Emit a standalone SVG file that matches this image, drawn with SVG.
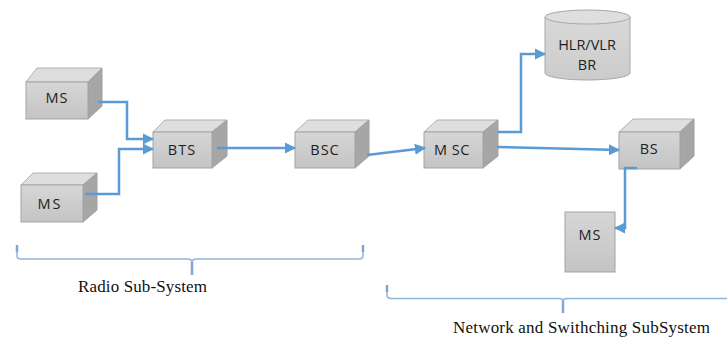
<svg xmlns="http://www.w3.org/2000/svg" width="727" height="337" viewBox="0 0 727 337">
<defs>
<linearGradient id="gf" x1="0" y1="0" x2="0" y2="1"><stop offset="0" stop-color="#d6d6d6"/><stop offset="1" stop-color="#c4c4c4"/></linearGradient>
<linearGradient id="gc" x1="0" y1="0" x2="0" y2="1"><stop offset="0" stop-color="#d9d9d9"/><stop offset="1" stop-color="#cbcbcb"/></linearGradient>
<marker id="ar" viewBox="0 0 10 10" refX="9" refY="5" markerWidth="4.5" markerHeight="4.5" orient="auto" markerUnits="strokeWidth"><path d="M0,0 L10,5 L0,10 z" fill="#5b9bd5"/></marker>
</defs>
<style>
.front{fill:url(#gf);stroke:#a3a3a3;stroke-width:1}
.top{fill:#dedede;stroke:#b0b0b0;stroke-width:1}
.side{fill:#a6a6a6;stroke:#a0a0a0;stroke-width:1}
.lbl{font-family:"Open Sans","Liberation Sans",sans-serif;font-size:14.5px;fill:#1e1e1e;text-anchor:middle}
.con{fill:none;stroke:#5b9bd5;stroke-width:2.5;marker-end:url(#ar)}
.br{fill:none;stroke:#8fb4da;stroke-width:1.5}
.tick{fill:none;stroke:#7fa8d3;stroke-width:2.5}
.cap{font-family:"Liberation Serif","Times New Roman",serif;font-size:17px;fill:#111}
</style>
<rect width="727" height="337" fill="#ffffff"/>
<g id="ms1">
<polygon class="top" points="26,82 37,68 102,68 88,82"/>
<polygon class="side" points="88,82 102,68 102,106 88,119"/>
<rect class="front" x="26" y="82" width="62" height="37"/>
<text class="lbl" x="57" y="103" letter-spacing="1">MS</text>
</g>
<g id="ms2">
<polygon class="top" points="21,185 33,173 97,173 83,185"/>
<polygon class="side" points="83,185 97,173 97,210 83,222"/>
<rect class="front" x="21" y="185" width="62" height="37"/>
<text class="lbl" x="50" y="209" letter-spacing="2">MS</text>
</g>
<g id="bts">
<polygon class="top" points="153,132 165,120 227,120 212,132"/>
<polygon class="side" points="212,132 227,120 227,156 212,168"/>
<rect class="front" x="153" y="132" width="59" height="36"/>
<text class="lbl" x="182" y="155" letter-spacing="1">BTS</text>
</g>
<g id="bsc">
<polygon class="top" points="295,132 308,120 369,120 355,132"/>
<polygon class="side" points="355,132 369,120 369,156 355,168"/>
<rect class="front" x="295" y="132" width="60" height="36"/>
<text class="lbl" x="325" y="155" letter-spacing="1">BSC</text>
</g>
<g id="msc">
<polygon class="top" points="424,132 437,120 498,120 483,132"/>
<polygon class="side" points="483,132 498,120 498,156 483,168"/>
<rect class="front" x="424" y="132" width="59" height="36"/>
<text class="lbl" x="452" y="155" letter-spacing="0.5">M SC</text>
</g>
<g id="hlr">
<path d="M545,17 L545,73 A42.5,7 0 0 0 630,73 L630,17" fill="url(#gc)" stroke="#a8a8a8" stroke-width="1"/>
<ellipse cx="587.5" cy="17" rx="42.5" ry="7" fill="#dedede" stroke="#a8a8a8" stroke-width="1"/>
<text class="lbl" x="587" y="50">HLR/VLR</text>
<text class="lbl" x="587" y="70">BR</text>
</g>
<g id="bs">
<polygon class="top" points="619,132 633,119 694,119 680,132"/>
<polygon class="side" points="680,132 694,119 694,156 680,169"/>
<rect class="front" x="619" y="132" width="61" height="37"/>
<text class="lbl" x="649" y="154" letter-spacing="0.5">BS</text>
</g>
<g id="ms3">
<rect class="front" x="565" y="212" width="50" height="60"/>
<text class="lbl" x="590" y="240" letter-spacing="1">MS</text>
</g>
<g id="connectors">
<path class="con" d="M98,102 H127 V139 H153"/>
<path class="con" d="M85,194 H119 V149 H153"/>
<path class="con" d="M217,148 H295"/>
<path class="con" d="M367,155 L425,148"/>
<path class="con" d="M498,132 H521 V54 H545"/>
<path class="con" d="M497,147 L619,150"/>
<path class="con" d="M637,168 H625 V228 H615"/>
</g>
<g id="braces">
<path class="br" d="M17,245 V256 Q17,259 21,259 H188 Q192,259 192,263 Q192,259 196,259 H359 Q363,259 363,256 V245"/>
<path class="tick" d="M192,262 V275 M17,245 V252 M363,245 V252"/>
<path class="br" d="M387,285 V295 Q387,298.5 391,298.5 H559 Q563,298.5 563,302 Q563,298.5 567,298.5 H727"/>
<path class="tick" d="M563,301 V313 M387,285 V292"/>
<text class="cap" x="78" y="292" textLength="129">Radio Sub-System</text>
<text class="cap" x="453" y="333" textLength="257">Network and Swithching SubSystem</text>
</g>
</svg>
